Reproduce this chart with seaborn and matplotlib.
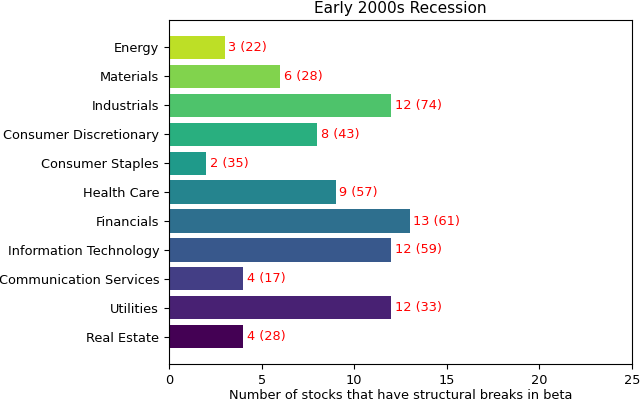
import matplotlib
matplotlib.use('Agg')
import matplotlib.pyplot as plt
import numpy as np
import pandas as pd
import seaborn as sns

sectors = ['Energy', 'Materials', 'Industrials', 'Consumer Discretionary',
           'Consumer Staples', 'Health Care', 'Financials',
           'Information Technology', 'Communication Services', 'Utilities',
           'Real Estate']
breaks = [3, 6, 12, 8, 2, 9, 13, 12, 4, 12, 4]
totals = [22, 28, 74, 43, 35, 57, 61, 59, 17, 33, 28]

df = pd.DataFrame({'sector': sectors, 'breaks': breaks, 'total': totals})

plt.rcParams['font.size'] = 9.3

# viridis from dark (bottom) to yellow-green (top)
colors = plt.cm.viridis(np.linspace(0, 0.9, len(sectors)))[::-1]

fig, ax = plt.subplots(figsize=(6.4, 4.03), dpi=100)
sns.barplot(data=df, y='sector', x='breaks', hue='sector',
            palette=list(colors), legend=False, ax=ax, saturation=1)

# value labels
for i, (b, t) in enumerate(zip(breaks, totals)):
    ax.text(b + 0.2, i, f'{b} ({t})', color='red', va='center', ha='left', fontsize=9.3)

ax.set_xlim(0, 25)
ax.set_xticks([0, 5, 10, 15, 20, 25])
# matplotlib-style 5% margins around the bars
n = len(sectors)
pad = 0.05 * (n - 1 + 0.8)
ax.set_ylim(n - 1 + 0.4 + pad, -0.4 - pad)
ax.set_ylabel('')
ax.set_xlabel('Number of stocks that have structural breaks in beta', labelpad=2)
ax.set_title('Early 2000s Recession', fontsize=11.1, pad=5)

plt.subplots_adjust(left=0.264, right=0.9875, top=0.950, bottom=0.0968)
plt.savefig('out.png', dpi=100)
